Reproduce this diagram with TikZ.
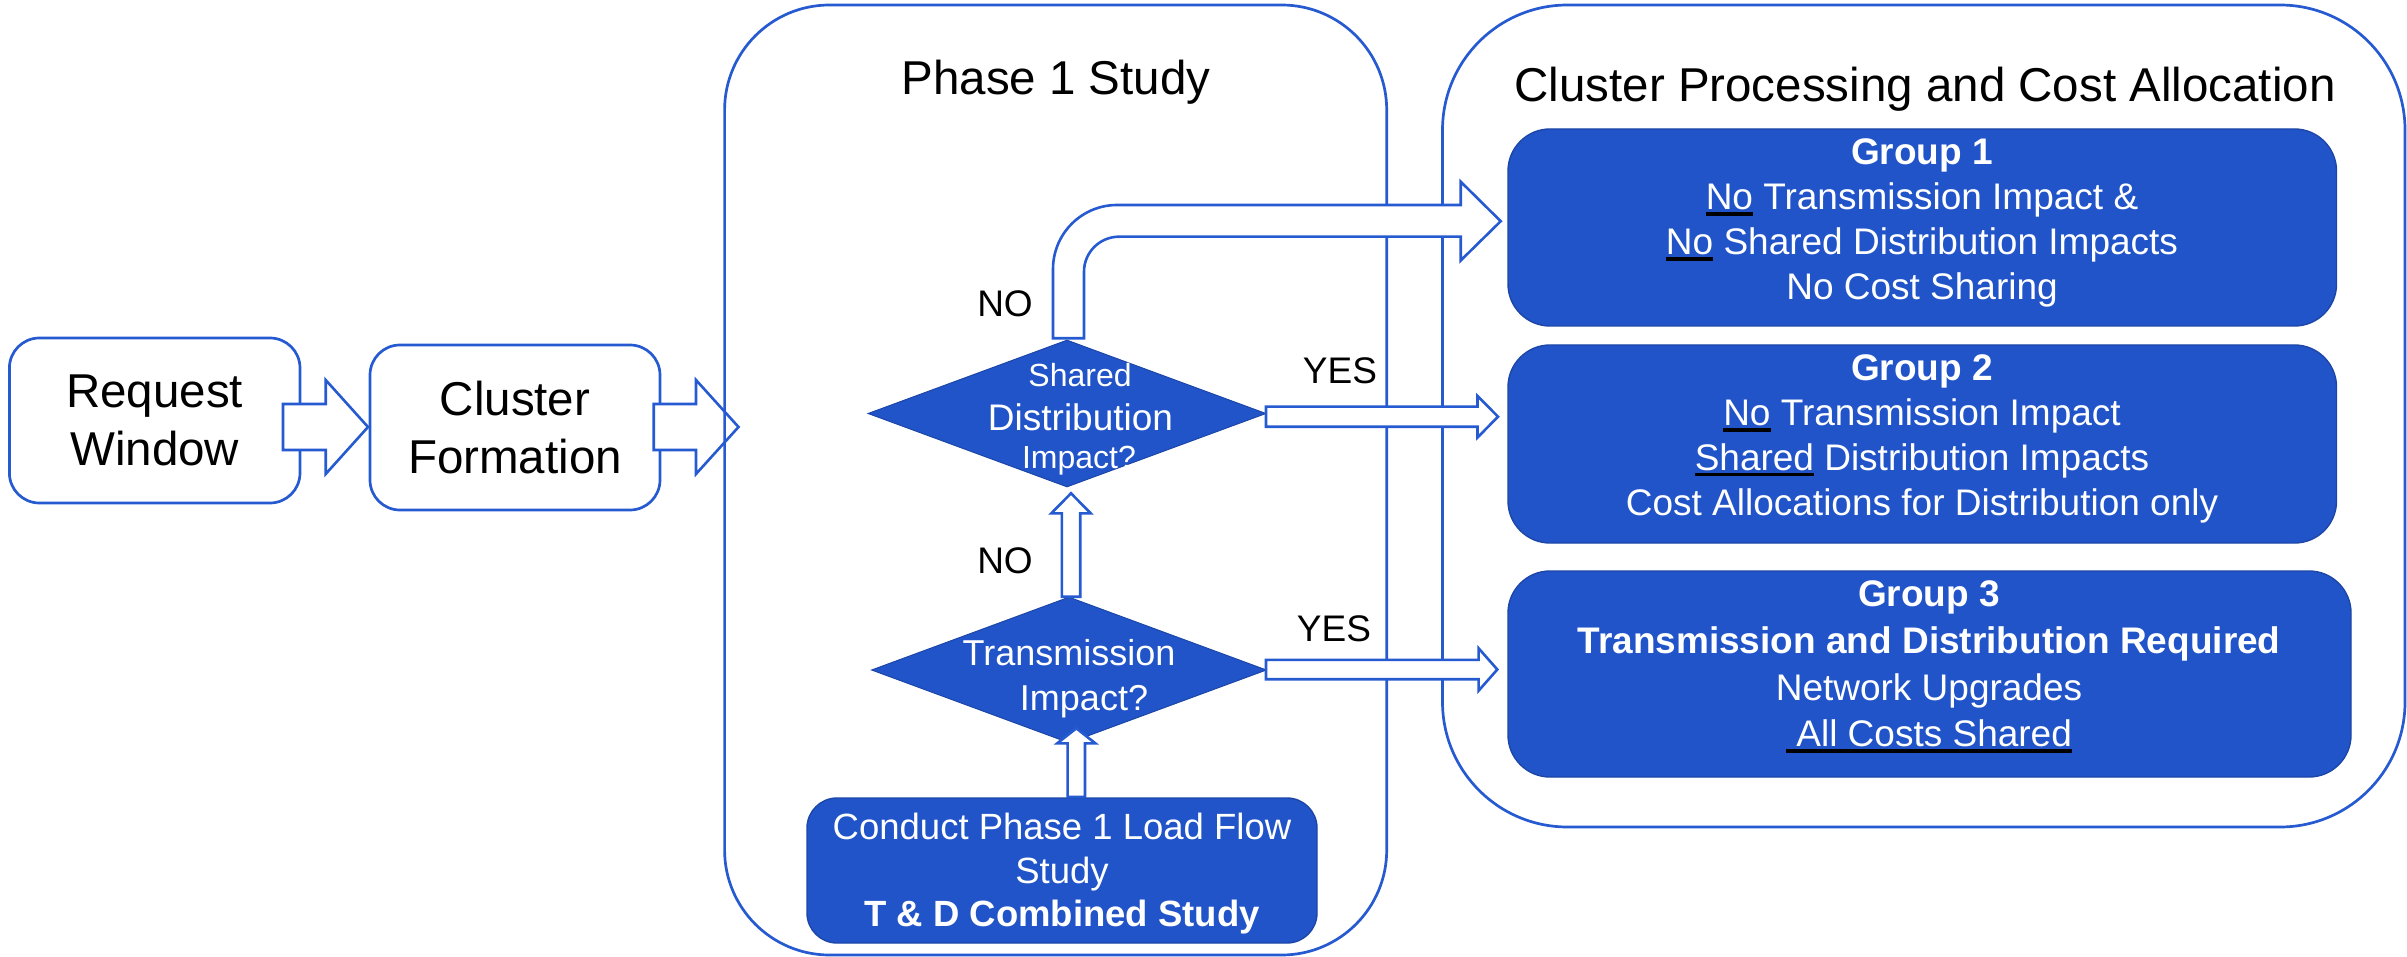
\documentclass[tikz,border=0pt]{standalone}
\usepackage{fontspec}
\setmainfont{Liberation Sans}
\usetikzlibrary{shapes.geometric}
\definecolor{bfill}{RGB}{33,84,200}
\definecolor{bline}{RGB}{38,90,208}
\definecolor{bdark}{RGB}{28,70,168}
\newcommand\fs[2]{\fontsize{#1}{#2}\selectfont}
\newcommand\ulk[1]{\setbox0=\hbox{#1}\rlap{\color{black}\rule[-6pt]{\wd0}{3.6pt}}\box0\relax}
% horizontal block arrow: start x, head base x, tip x, centre y, shaft half, head half
\newcommand\harr[6]{\draw[blockarr] (#1,#4-#5) -- (#2,#4-#5) -- (#2,#4-#6) -- (#3,#4) -- (#2,#4+#6) -- (#2,#4+#5) -- (#1,#4+#5) -- cycle;}
% vertical (upward) block arrow: bottom y, head base y, tip y, centre x, shaft half, head half
\newcommand\varr[6]{\draw[blockarr] (#4-#5,#1) -- (#4-#5,#2) -- (#4-#6,#2) -- (#4,#3) -- (#4+#6,#2) -- (#4+#5,#2) -- (#4+#5,#1) -- cycle;}
\begin{document}
\begin{tikzpicture}[x=1pt,y=-1pt,
  smallbox/.style={draw=bline, line width=2.7pt, fill=white, rounded corners=30pt, inner sep=0,
    align=center, font=\fs{47.5}{58}},
  cont/.style={draw=bline, line width=2.7pt, inner sep=0},
  bluebox/.style={draw=bdark, line width=1.4pt, fill=bfill, inner sep=0, rounded corners=42pt},
  dia/.style={diamond, draw=bdark, line width=1pt, fill=bfill, inner sep=0},
  wt/.style={text=white, inner sep=0},
  lbl/.style={text=black, inner sep=0, font=\fs{37}{44}, anchor=base},
  blockarr/.style={draw=bline, line width=2.6pt, fill=white, line join=miter},
]
\useasboundingbox (0,0) rectangle (2407,957);

% left boxes
\node[smallbox, minimum width=290.6pt, minimum height=165pt] (req) at (154.7,420.5) {Request\\Window};
\node[smallbox, minimum width=290pt, minimum height=165pt] (clu) at (515,427.5) {Cluster\\Formation};

% arrows between left boxes
\harr{283}{325.7}{368}{427}{23}{47}
\harr{653.7}{696}{738.5}{427}{23}{47}

% containers
\node[cont, rounded corners=105pt, minimum width=662.1pt, minimum height=950pt] (ph) at (1055.65,480) {};
\node[cont, rounded corners=125pt, minimum width=962.5pt, minimum height=822pt] (cp) at (1923.75,416) {};
\node[anchor=base, inner sep=0, font=\fs{47.5}{58}] (pht) at (1056,95) {Phase 1 Study};
\node[anchor=base, inner sep=0, font=\fs{47.5}{58}] (cpt) at (1925,102) {Cluster Processing and Cost Allocation};

% diamonds
\node[dia, minimum width=398pt, minimum height=147pt] (d1) at (1067,413.5) {};
\node[dia, minimum width=395pt, minimum height=146pt] (d2) at (1069,670) {};
\node[wt, anchor=base, font=\fs{32}{38}] (d1a) at (1080,386.7) {Shared};
\node[wt, anchor=base, font=\fs{37}{44}] (d1b) at (1080.5,430) {Distribution};
\node[wt, anchor=base, font=\fs{32}{38}] (d1c) at (1079,468) {Impact?};
\node[wt, anchor=base, font=\fs{36}{43}] (d2a) at (1069,665) {Transmission};
\node[wt, anchor=base, font=\fs{36}{43}] (d2b) at (1084,710) {Impact?};

% conduct box
\node[bluebox, rounded corners=30pt, minimum width=510pt, minimum height=145pt] (cond) at (1062,870.5) {};
\node[wt, align=center, anchor=base, font=\fs{36.5}{43.5}] (condt) at (1062,926.7)
  {Conduct Phase 1 Load Flow\\Study\\\textbf{T \& D Combined Study}};

% group boxes
\node[bluebox, minimum width=828.5pt, minimum height=197pt] (g1) at (1922.25,227.5) {};
\node[bluebox, minimum width=828.5pt, minimum height=198pt] (g2) at (1922.25,444) {};
\node[bluebox, minimum width=843pt, minimum height=206pt] (g3) at (1929.5,674) {};
\node[wt, align=center, anchor=base, font=\fs{37}{45}] (g1t) at (1922,300)
  {\textbf{Group 1}\\\ulk{No} Transmission Impact \&\\\ulk{No} Shared Distribution Impacts\\No Cost Sharing};
\node[wt, align=center, anchor=base, font=\fs{37}{44.7}] (g2t) at (1922,515)
  {\textbf{Group 2}\\\ulk{No} Transmission Impact\\\ulk{Shared} Distribution Impacts\\Cost Allocations for Distribution only};
\node[wt, align=center, anchor=base, font=\fs{37}{46.7}] (g3t) at (1929,746.7)
  {\textbf{Group 3}\\\textbf{Transmission and Distribution Required}\\Network Upgrades\\\ulk{\ All Costs Shared}};

% arrows inside phase 1
\varr{596.7}{513.3}{493.3}{1071}{9.2}{19.7}
\varr{797}{743.3}{728.3}{1076.3}{8.7}{19}
\draw[blockarr] (1053,338.3) -- (1053,269) .. controls (1053,233.7) and (1081.7,205) .. (1117,205)
  -- (1460.7,205) -- (1460.7,181.7) -- (1500.7,221.2) -- (1460.7,260.5) -- (1460.7,236.7)
  -- (1119,236.7) .. controls (1099.7,236.7) and (1084,252.4) .. (1084,271.7) -- (1084,338.3) -- cycle;
\harr{1266}{1477.5}{1498}{416.7}{10}{20.8}
\harr{1266}{1478.6}{1497.3}{669.5}{9.7}{21.2}

% labels
\node[lbl] (no1) at (1005,316.7) {NO};
\node[lbl] (no2) at (1005,573.3) {NO};
\node[lbl] (yes1) at (1340,383.3) {YES};
\node[lbl] (yes2) at (1334,641.7) {YES};
\end{tikzpicture}
\end{document}
